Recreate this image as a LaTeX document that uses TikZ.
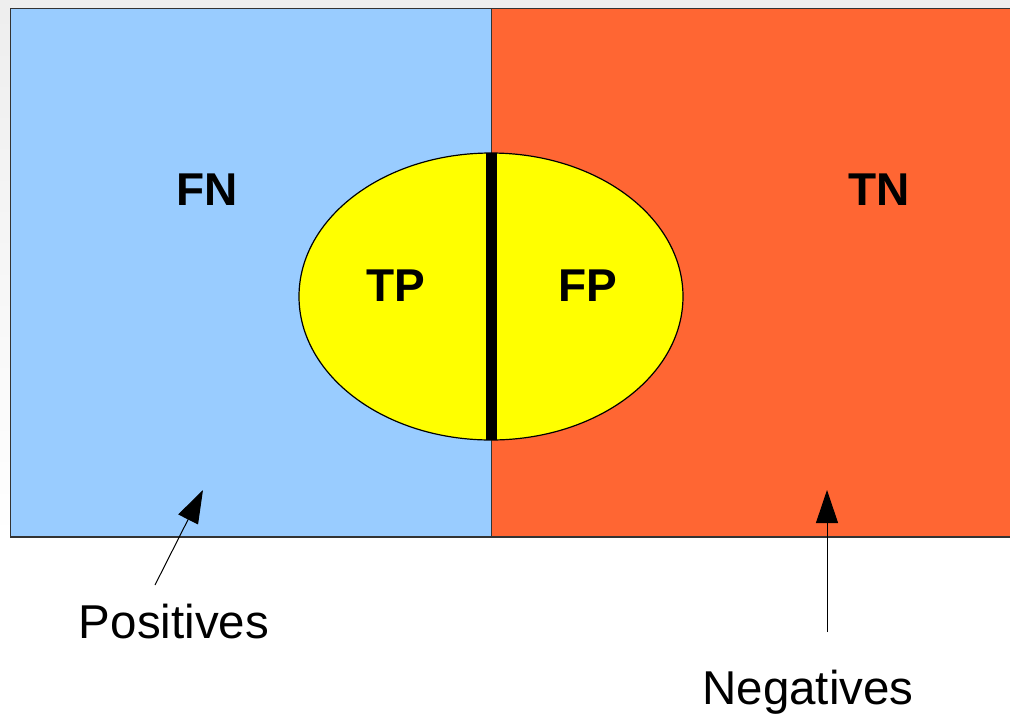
\documentclass[tikz,border=0pt]{standalone}
\usepackage{fontspec}
\setmainfont{Liberation Sans}
\usetikzlibrary{arrows.meta,shapes.geometric}
\definecolor{posblue}{HTML}{99CCFF}
\definecolor{negred}{HTML}{FF6633}
\definecolor{predyellow}{HTML}{FFFF00}
\definecolor{edge}{HTML}{333333}
\definecolor{frame}{HTML}{EEEEEE}
\tikzset{
  cell/.style={font=\fontsize{46}{50}\selectfont\bfseries, text=black, inner sep=0pt},
  caption/.style={font=\fontsize{47.5}{52}\selectfont, text=black, inner sep=0pt},
  pointer/.style={draw=black, line width=1pt, -{Triangle[length=33pt, width=22pt]}},
}
\begin{document}
\begin{tikzpicture}[x=1pt, y=-1pt]
  \useasboundingbox (0,0) rectangle (1010,721);
  % window background
  \fill[white] (0,0) rectangle (1010,721);
  \fill[frame] (0,0) rectangle (1010,8);
  \shade[top color=frame, bottom color=white] (0,8) rectangle (10,540);
  % the two classes
  \fill[posblue] (10.5,8.5) rectangle (491,537);
  \fill[negred] (491,8.5) rectangle (1012,537);
  \draw[edge, line width=1.6pt] (1012,8.5) -- (10.5,8.5) -- (10.5,537) -- (1012,537);
  \draw[edge, line width=1pt] (491,8.5) -- (491,537);
  % predicted positives
  \node[ellipse, draw=black, line width=1.2pt, fill=predyellow,
        minimum width=384pt, minimum height=287pt, inner sep=0pt] (pred) at (491,296.5) {};
  \fill[black] (486,153) rectangle (497,440);
  % cell labels
  \node[cell] (fn) at (207,190) {FN};
  \node[cell] (tn) at (879,190) {TN};
  \node[cell] (tp) at (396,286) {TP};
  \node[cell] (fp) at (588,286) {FP};
  % captions and pointers
  \node[caption] (pos) at (174,622) {Positives};
  \node[caption] (neg) at (808,692) {Negatives};
  \coordinate (posfrom) at (155,585);
  \coordinate (posto) at (203,490);
  \coordinate (negfrom) at (827,632);
  \coordinate (negto) at (827,490);
  \draw[pointer] (posfrom) -- (posto);
  \draw[pointer] (negfrom) -- (negto);
\end{tikzpicture}
\end{document}
